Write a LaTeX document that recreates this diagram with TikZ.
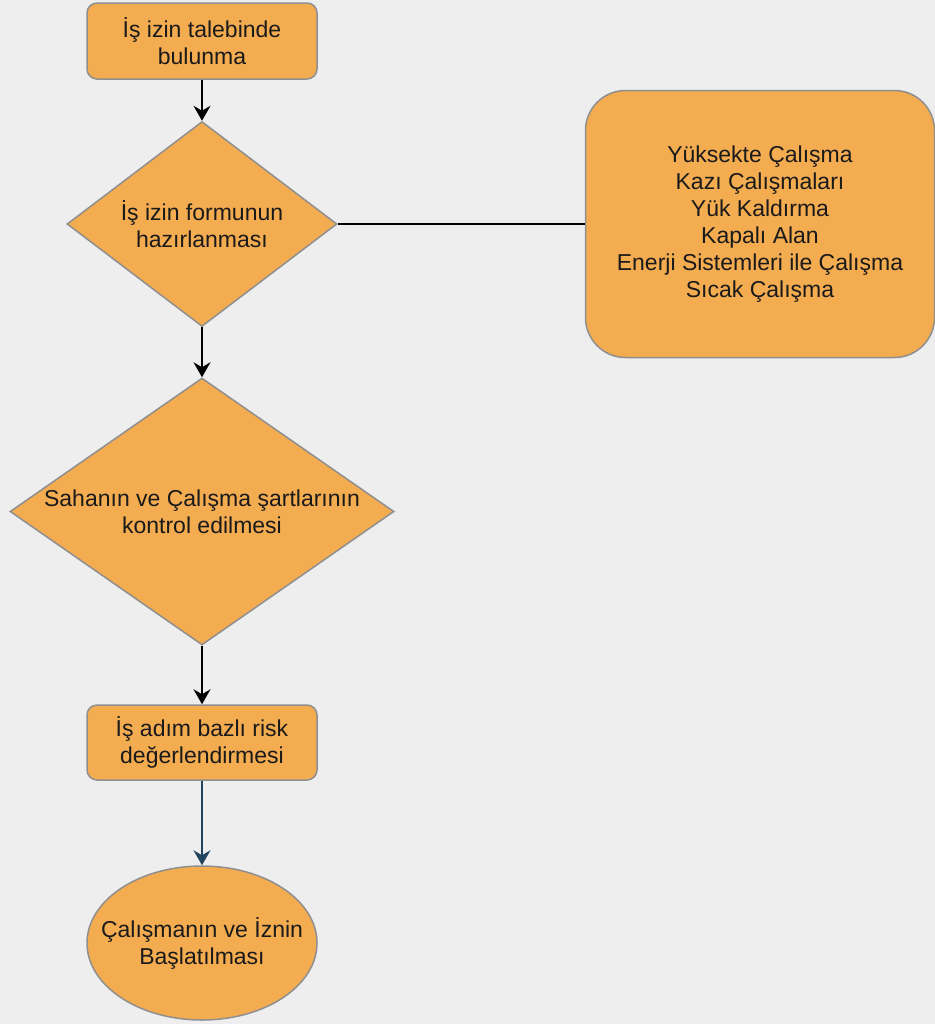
\documentclass[tikz,border=0pt]{standalone}
\usepackage{fontspec}
\setmainfont{Liberation Sans}
\usetikzlibrary{shapes.geometric,arrows.meta}
\definecolor{turuncu}{HTML}{F4AC51}
\definecolor{cerceve}{HTML}{8F8F8F}
\definecolor{zemin}{HTML}{EEEEEE}
\definecolor{yazi}{HTML}{1A1A1A}
\definecolor{lacivert}{HTML}{23445D}

\begin{document}
\begin{tikzpicture}[>={Stealth[length=7.5pt,width=8.5pt,inset=2.5pt]}, x=0.5pt, y=-0.5pt,
  every node/.style={text=yazi, font=\fontsize{11.5}{13.5}\selectfont, align=center},
  kutu/.style={rectangle, rounded corners=5pt, draw=cerceve, line width=0.75pt, fill=turuncu, inner sep=0pt},
  karar/.style={diamond, aspect=1.4, draw=cerceve, line width=0.75pt, fill=turuncu, inner sep=-6pt},
  ok/.style={->, line width=0.75pt}]
% Zemin
\fill[zemin] (0,0) rectangle (935,1024);
\useasboundingbox (0,0) rectangle (935,1024);
% Talep
\node[kutu, minimum width=115pt, minimum height=38pt] (talep) at (202,41) {İş izin talebinde\\bulunma};
% Form
\node[karar, minimum width=135pt, minimum height=102.5pt] (form) at (202,224) {İş izin formunun\\hazırlanması};
% Calisma turleri
\node[kutu, rounded corners=20pt, minimum width=174.5pt, minimum height=133.5pt] (turler) at (760,224)
  {Yüksekte Çalışma\\Kazı Çalışmaları\\Yük Kaldırma\\Kapalı Alan\\Enerji Sistemleri ile Çalışma\\Sıcak Çalışma};
% Saha kontrolu
\node[karar, minimum width=192pt, minimum height=133.5pt] (saha) at (202,511.5) {Sahanın ve Çalışma şartlarının\\kontrol edilmesi};
% Risk
\node[kutu, minimum width=115pt, minimum height=37.5pt] (risk) at (202,742.5) {İş adım bazlı risk\\değerlendirmesi};
% Baslama
\node[ellipse, draw=cerceve, line width=0.75pt, fill=turuncu, minimum width=115pt, minimum height=77pt, inner sep=-14pt] (basla) at (202,943) {Çalışmanın ve İznin\\Başlatılması};
% Baglantilar
\draw[ok] (talep) -- (form);
\draw[line width=0.75pt] (form) -- (turler);
\draw[ok] (form) -- (saha);
\draw[ok] (saha) -- (risk);
\draw[ok, draw=lacivert, fill=lacivert] (risk) -- (basla);
\end{tikzpicture}
\end{document}
